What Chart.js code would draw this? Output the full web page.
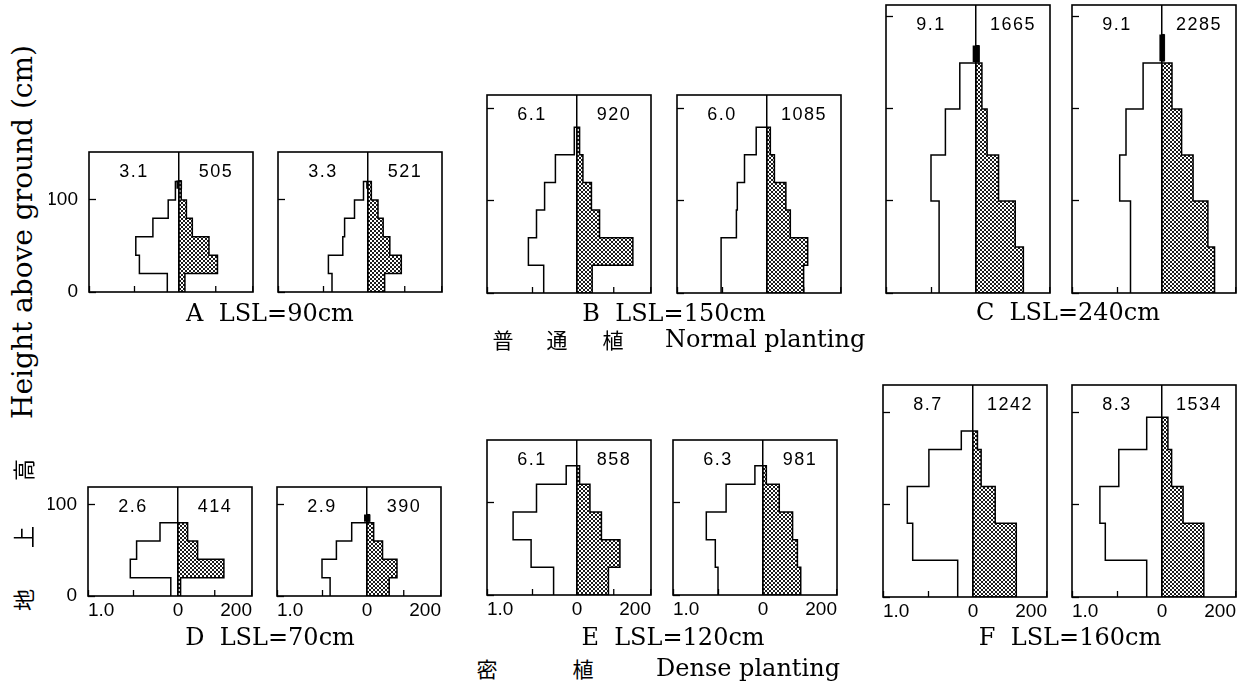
<!DOCTYPE html>
<html>
<head>
<meta charset="utf-8">
<script src="https://cdn.jsdelivr.net/npm/chart.js@4.4.1/dist/chart.umd.min.js"></script>
<style>
    body { margin: 0; background: #fff; width: 1246px; height: 691px; position: relative; overflow: hidden; }
    canvas { position: absolute; }
    .num { position: absolute; font: 18px 'Liberation Sans', Arial, sans-serif; letter-spacing: 1.5px;
           transform: translate(-50%, -50%); white-space: nowrap; color: #000; }
    .cap { position: absolute; font: 24px 'DejaVu Serif', serif; transform: translate(-50%, -50%);
           white-space: pre; color: #000; }
    .cjk { position: absolute; font: 21px 'Noto Sans CJK JP', sans-serif; transform: translate(-50%, -50%); color: #000; }
    .eng { position: absolute; font: 24px 'DejaVu Serif', serif; transform: translateY(-50%); white-space: nowrap; color: #000; }
    .vt { position: absolute; transform: translate(-50%, -50%) rotate(-90deg); white-space: nowrap; color: #000; }
</style>
</head>
<body>
<script>
// ---- data ----
const panelIds = ['A1', 'A2', 'B1', 'B2', 'C1', 'C2', 'D1', 'D2', 'E1', 'E2', 'F1', 'F2'];
const laiLabels = ['3.1', '3.3', '6.1', '6.0', '9.1', '9.1', '2.6', '2.9', '6.1', '6.3', '8.7', '8.3'];
const stemLabels = ['505', '521', '920', '1085', '1665', '2285', '414', '390', '858', '981', '1242', '1534'];
const heightMax = [152, 152, 215, 215, 313, 313, 119, 119, 168, 168, 230, 230];
const yTickValues = [0, 100, 200, 300];
const leafTicks = [0, 0.5, 1.0];
const stemTicks = [100, 0, 200];

// layer boundaries (cm above ground)
const layersA = [0, 20, 40, 60, 80, 100, 120];
const layersB = [0, 30, 60, 90, 120, 150, 180];
const layersC = [0, 50, 100, 150, 200, 250];
const layersD = [0, 20, 40, 60, 80];
const layersE = [0, 30, 60, 90, 120, 140];
const layersF1 = [0, 40, 80, 120, 160, 180];
const layersF2 = [0, 40, 80, 120, 160, 195];

// leaf area per layer (left side, 0..1.0)
const leafA1 = [0.13, 0.44, 0.48, 0.29, 0.12, 0.04];
const leafA2 = [0.40, 0.44, 0.28, 0.26, 0.15, 0.05];
const leafB1 = [0.37, 0.54, 0.45, 0.36, 0.24, 0.03];
const leafB2 = [0.51, 0.51, 0.34, 0.33, 0.25, 0.12];
const leafC1 = [0.41, 0.41, 0.50, 0.34, 0.18];
const leafC2 = [0.35, 0.35, 0.47, 0.40, 0.21];
const leafD1 = [0.08, 0.53, 0.46, 0.20];
const leafD2 = [0.41, 0.50, 0.34, 0.17];
const leafE1 = [0.26, 0.51, 0.71, 0.45, 0.12];
const leafE2 = [0.50, 0.53, 0.63, 0.41, 0.09];
const leafF1 = [0.17, 0.67, 0.73, 0.49, 0.13];
const leafF2 = [0.17, 0.63, 0.69, 0.48, 0.17];

// stem weight per layer (right side, 0..200)
const stemA1 = [16, 104, 81, 36, 20, 6];
const stemA2 = [45, 90, 59, 41, 27, 9];
const stemB1 = [41, 151, 61, 39, 16, 7];
const stemB2 = [99, 110, 63, 51, 20, 9];
const stemC1 = [128, 106, 61, 30, 16];
const stemC2 = [142, 124, 84, 53, 27];
const stemD1 = [7, 124, 53, 26];
const stemD2 = [60, 81, 42, 18];
const stemE1 = [85, 116, 66, 35, 7];
const stemE2 = [102, 93, 80, 44, 9];
const stemF1 = [117, 117, 60, 22, 12];
const stemF2 = [113, 113, 57, 26, 16];

// ears (black bar on top of the stem)
const earBase = [112, 112, 0, 0, 251, 252, 0, 81, 0, 0, 0, 0];
const earTop = [121, 120, 0, 0, 269, 281, 0, 89, 0, 0, 0, 0];
const earHalf = [7, 5, 0, 0, 9, 7, 0, 8, 0, 0, 0, 0];

const layerSets = [layersA, layersA, layersB, layersB, layersC, layersC, layersD, layersD, layersE, layersE, layersF1, layersF2];
const leafSets = [leafA1, leafA2, leafB1, leafB2, leafC1, leafC2, leafD1, leafD2, leafE1, leafE2, leafF1, leafF2];
const stemSets = [stemA1, stemA2, stemB1, stemB2, stemC1, stemC2, stemD1, stemD2, stemE1, stemE2, stemF1, stemF2];

const captions = ['A  LSL=90cm', 'B  LSL=150cm', 'C  LSL=240cm', 'D  LSL=70cm', 'E  LSL=120cm', 'F  LSL=160cm'];

// ---- layout ----
const panelLeft = [89, 278, 487, 677, 886, 1072, 88, 277, 487, 673, 883, 1072];
const panelBottom = [292, 292, 293, 293, 293, 293, 596, 596, 595, 595, 597, 597];
const captionPos = [[270, 313], [674, 313], [1068, 312], [270, 637], [673, 637], [1070, 637]];
const PX_PER_CM = 0.92;
const LEAF_W = 90, STEM_W = 74;
const MARGIN = { left: 48, right: 14, top: 6, bottom: 30 };
const Y_AXIS_W = 40, X_AXIS_H = 26;

Chart.defaults.font.family = "'Liberation Sans', Arial, sans-serif";
Chart.defaults.font.size = 19;
Chart.defaults.color = '#000';

function makeStipple() {
    const c = document.createElement('canvas');
    c.width = 4; c.height = 4;
    const g = c.getContext('2d');
    g.fillStyle = '#fff';
    g.fillRect(0, 0, 4, 4);
    g.fillStyle = '#1c1c1c';
    g.fillRect(0, 0, 2, 2);
    g.fillRect(2, 2, 2, 2);
    return g.createPattern(c, 'repeat');
}
const stipple = makeStipple();

// open step outline for leaves
function leafOutline(h, w) {
    const pts = [];
    w.forEach((v, k) => {
        pts.push({ x: v, y: h[k] });
        pts.push({ x: v, y: h[k + 1] });
    });
    pts.push({ x: 0, y: h[h.length - 1] });
    return pts;
}

// closed step polygon for stems
function stemOutline(h, s) {
    const pts = [{ x: 0, y: h[0] }];
    s.forEach((v, k) => {
        pts.push({ x: v, y: h[k] });
        pts.push({ x: v, y: h[k + 1] });
    });
    pts.push({ x: 0, y: h[h.length - 1] });
    pts.push({ x: 0, y: h[0] });
    return pts;
}

function earOutline(i) {
    if (!earHalf[i]) return [];
    const w = earHalf[i];
    return [
        { x: -w, y: earBase[i] }, { x: w, y: earBase[i] },
        { x: w, y: earTop[i] }, { x: -w, y: earTop[i] }, { x: -w, y: earBase[i] }
    ];
}

const panelFrame = {
    id: 'panelFrame',
    afterDraw(chart) {
        const { ctx, chartArea: { left, top, width, height } } = chart;
        ctx.save();
        ctx.strokeStyle = '#000';
        ctx.lineWidth = 1.6;
        ctx.strokeRect(left, top, width, height);
        ctx.restore();
    }
};

function addText(cls, text, x, y) {
    const d = document.createElement('div');
    d.className = cls;
    d.textContent = text;
    d.style.left = x + 'px';
    d.style.top = y + 'px';
    document.body.appendChild(d);
    return d;
}

panelIds.forEach((id, i) => {
    const bottomRow = i >= 6;
    const firstCol = i === 0 || i === 6;
    const h = Math.round(heightMax[i] * PX_PER_CM);
    const top = panelBottom[i] - h;
    const xAxisH = bottomRow ? X_AXIS_H : 0;
    const yAxisW = firstCol ? Y_AXIS_W : 0;

    const cv = document.createElement('canvas');
    cv.width = LEAF_W + STEM_W + MARGIN.left + MARGIN.right;
    cv.height = h + MARGIN.top + MARGIN.bottom;
    cv.style.left = (panelLeft[i] - MARGIN.left) + 'px';
    cv.style.top = (top - MARGIN.top) + 'px';
    document.body.appendChild(cv);

    const fitX = s => { s.height = xAxisH; s.paddingLeft = 0; s.paddingRight = 0; };

    new Chart(cv, {
        type: 'line',
        data: {
            datasets: [
                {
                    label: 'leaf',
                    data: leafOutline(layerSets[i], leafSets[i]),
                    xAxisID: 'xL',
                    borderColor: '#000',
                    borderWidth: 1.5,
                    pointRadius: 0,
                    fill: false,
                    tension: 0
                },
                {
                    label: 'stem',
                    data: stemOutline(layerSets[i], stemSets[i]),
                    xAxisID: 'xR',
                    borderColor: '#000',
                    borderWidth: 1.5,
                    backgroundColor: stipple,
                    pointRadius: 0,
                    fill: 'shape',
                    tension: 0
                },
                {
                    label: 'ear',
                    data: earOutline(i),
                    xAxisID: 'xR',
                    borderColor: '#000',
                    borderWidth: 1,
                    backgroundColor: '#000',
                    pointRadius: 0,
                    fill: 'shape',
                    tension: 0
                }
            ]
        },
        options: {
            responsive: false,
            animation: false,
            events: [],
            layout: {
                padding: {
                    left: MARGIN.left - yAxisW,
                    right: MARGIN.right,
                    top: MARGIN.top,
                    bottom: MARGIN.bottom - xAxisH
                }
            },
            plugins: { legend: { display: false }, tooltip: { enabled: false } },
            scales: {
                xL: {
                    type: 'linear',
                    position: 'bottom',
                    stack: 'x',
                    stackWeight: LEAF_W,
                    reverse: true,
                    min: 0,
                    max: 1,
                    afterBuildTicks: s => { s.ticks = leafTicks.map(v => ({ value: v })); },
                    afterFit: fitX,
                    border: { display: false },
                    grid: { drawOnChartArea: false, tickLength: -6, tickColor: '#000', tickWidth: 1.3 },
                    ticks: {
                        display: bottomRow,
                        autoSkip: false,
                        maxRotation: 0,
                        align: 'inner',
                        padding: 9,
                        callback: v => (v === 1 ? '1.0' : '')
                    }
                },
                xR: {
                    type: 'linear',
                    position: 'bottom',
                    stack: 'x',
                    stackWeight: STEM_W,
                    min: 0,
                    max: 200,
                    afterBuildTicks: s => { s.ticks = stemTicks.map(v => ({ value: v })); },
                    afterFit: fitX,
                    border: { display: false },
                    grid: {
                        drawOnChartArea: true,
                        color: c => (c.tick && c.tick.value === 0 ? '#000' : 'rgba(0,0,0,0)'),
                        lineWidth: 1.5,
                        tickLength: -6,
                        tickColor: '#000',
                        tickWidth: 1.3
                    },
                    ticks: {
                        display: bottomRow,
                        autoSkip: false,
                        maxRotation: 0,
                        align: 'inner',
                        padding: 9,
                        callback: v => (v === 0 ? '0' : v === 200 ? '200' : '')
                    }
                },
                y: {
                    type: 'linear',
                    position: 'left',
                    min: 0,
                    max: heightMax[i],
                    afterBuildTicks: s => {
                        s.ticks = yTickValues.filter(v => v < heightMax[i]).map(v => ({ value: v }));
                    },
                    afterFit: s => { s.width = yAxisW; s.paddingTop = 0; s.paddingBottom = 0; },
                    border: { display: false },
                    grid: { drawOnChartArea: false, tickLength: -7, tickColor: '#000', tickWidth: 1.3 },
                    ticks: {
                        display: firstCol,
                        padding: 18,
                        callback: v => String(v)
                    }
                }
            }
        },
        plugins: [panelFrame]
    });

    addText('num', laiLabels[i], panelLeft[i] + LEAF_W / 2, top + 19);
    addText('num', stemLabels[i], panelLeft[i] + LEAF_W + STEM_W / 2, top + 19);
});

captions.forEach((t, k) => addText('cap', t, captionPos[k][0], captionPos[k][1]));

// planting labels
addText('cjk', '普', 503, 339);
addText('cjk', '通', 557, 339);
addText('cjk', '植', 613, 339);
addText('eng', 'Normal planting', 665, 339);
addText('cjk', '密', 487, 668);
addText('cjk', '植', 583, 668);
addText('eng', 'Dense planting', 656, 668);

// shared y axis title
const yt = addText('vt', 'Height above ground (cm)', 22, 232);
yt.style.font = "28px 'DejaVu Serif', serif";
[['地', 600], ['上', 537], ['高', 470]].forEach(([ch, y]) => {
    const d = addText('vt', ch, 22, y);
    d.style.font = "22px 'Noto Sans CJK JP', sans-serif";
});
</script>
</body>
</html>
